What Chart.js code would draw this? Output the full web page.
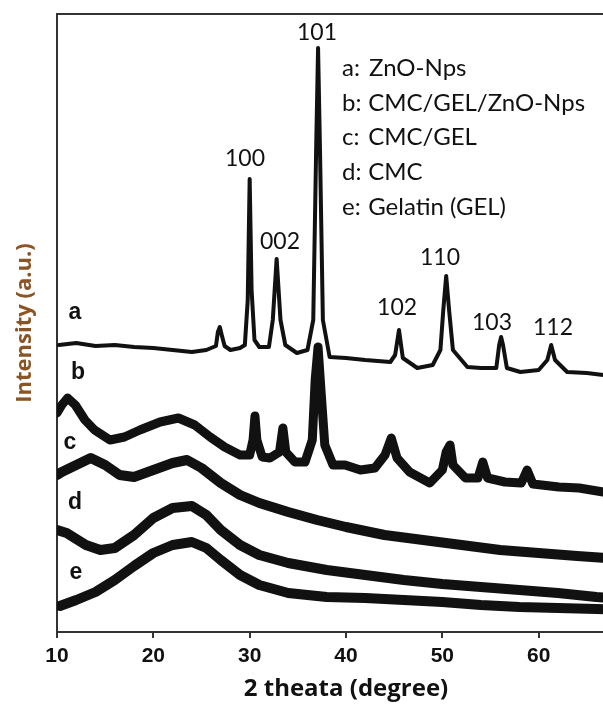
<!DOCTYPE html>
<html><head><meta charset="utf-8">
<script src="https://cdn.jsdelivr.net/npm/chart.js@4/dist/chart.umd.min.js"></script>
<style>html,body{margin:0;padding:0;overflow:hidden;background:#fff;width:603px;height:704px}canvas{display:block}</style>
</head><body><canvas id="c" width="635" height="704"></canvas>
<script>
// ---- data (2 theta in degree, intensity in arbitrary units, curves offset as in the figure) ----
const xTickValues = [10, 20, 30, 40, 50, 60, 70];

const thetaA = [10.2,12,14,16,18,20,22,24,25.5,26.5,26.7,26.9,27.1,27.4,28,29,29.5,29.8,30.0,30.2,30.5,31,32,32.4,32.8,33.2,33.7,34.9,36,36.6,36.9,37.1,37.3,37.6,38.3,40,42,44.6,45.1,45.5,45.9,47.4,49,49.8,50.1,50.4,50.7,51.1,52.6,54,55.6,55.9,56.1,56.3,56.7,58.1,60,60.9,61.3,61.7,62.96,65,66.7,70];
const intensA = [287,289,286,287,285,284,282,280,282,286,300,305,297,286,282,284,287,332,453,342,292,285,285,312,373,312,287,279,282,312,482,584,482,312,275,274,272,270,277,302,274,264,267,282,322,356,322,282,265,264,264,287,295,287,264,260,262,272,287,272,260,259,257,254];

const thetaB = [10.0,10.5,11.1,11.9,12.9,13.9,15.5,17.0,18.6,20.7,22.6,24.3,25.9,27.4,29.0,30.0,30.35,30.55,30.75,31.3,32.1,33.1,33.45,33.75,34.7,35.75,36.5,36.8,37.1,37.4,37.8,38.65,39.9,41.5,43.0,44.05,44.7,45.3,46.6,48.7,50.0,50.4,50.8,51.1,52.4,53.7,54.2,54.7,56.5,58.2,58.8,59.4,62.1,64.2,66.7,70];
const intensB = [219,227,234,227,212,202,192,195,202,210,214,207,195,185,177,177,192,216,192,175,174,180,204,180,170,170,192,252,285,242,187,167,167,162,164,177,194,174,160,149,162,180,187,167,154,154,170,154,150,149,162,148,145,144,140,138];

const thetaC = [10.0,10.5,12,13.5,15,16.5,18,20,22,23.5,25,27,29,31,34,37,40,44,48,52,56,60,64,67,70];
const intensC = [157,160,167,174,167,157,155,162,169,172,164,149,137,129,120,112,105,97,92,87,82,79,76,74,72];

const thetaD = [10.0,11,13,14.5,16,18,20,22,24,25.5,27,29,31,34,38,42,46,50,54,58,62,66,70];
const intensD = [102,99,87,82,84,97,114,124,126,117,102,87,77,69,62,57,52,48,45,42,39,35,32];

const thetaE = [10.3,12,14,16,18,20,22,24,25.5,27,29,31,34,38,42,46,50,54,58,62,66,70];
const intensE = [26,32,40,52,66,79,87,90,84,72,57,47,39,35,34,32,30,27,25,24,23,22];

// peak (hkl) labels
const peakNames = ['101','100','002','110','102','103','112'];
const peakLabelTheta = [36.99,29.52,33.15,49.76,45.30,55.16,61.49];
const peakLabelY = [599,473,390,374,324,309,304];

// curve letters
const curveLetters = ['a','b','c','d','e'];
const letterTheta = [11.87,12.18,11.35,11.87,11.97];
const letterY = [319,259,189,129,59];

// legend text
const legendKeys = ['a:','b:','c:','d:','e:'];
const legendNames = ['ZnO-Nps','CMC/GEL/ZnO-Nps','CMC/GEL','CMC','Gelatin (GEL)'];
const legendKeyTheta = 39.59;
const legendNameTheta = [42.4,42.3,42.3,42.3,42.3];
const legendY = [564,529,495,460,425];

function pts(xs, ys){ return xs.map((v,i)=>({x:v, y:ys[i]})); }

const annot = {
  id: 'annot',
  afterDatasetsDraw(chart){
    const {ctx, scales:{x, y}} = chart;
    ctx.save();
    ctx.fillStyle = '#111';
    ctx.textBaseline = 'middle';
    ctx.textAlign = 'center';
    ctx.font = '23px Lato';
    peakNames.forEach((t,i)=>ctx.fillText(t, x.getPixelForValue(peakLabelTheta[i]), y.getPixelForValue(peakLabelY[i])));
    ctx.font = 'bold 23px "Liberation Sans"';
    curveLetters.forEach((t,i)=>ctx.fillText(t, x.getPixelForValue(letterTheta[i]), y.getPixelForValue(letterY[i])));
    ctx.textAlign = 'left';
    ctx.font = '24px Lato';
    legendKeys.forEach((t,i)=>ctx.fillText(t, x.getPixelForValue(legendKeyTheta), y.getPixelForValue(legendY[i])));
    legendNames.forEach((t,i)=>ctx.fillText(t, x.getPixelForValue(legendNameTheta[i]), y.getPixelForValue(legendY[i])));
    ctx.restore();
  }
};

function make(){
  const ds = (xs, ys, w) => ({data: pts(xs, ys), borderColor:'#111', borderWidth:w, pointRadius:0, tension:0, borderJoinStyle:'round', borderCapStyle:'round'});
  new Chart(document.getElementById('c'), {
    type: 'line',
    data: { datasets: [
      ds(thetaA, intensA, 4),
      ds(thetaB, intensB, 9),
      ds(thetaC, intensC, 10),
      ds(thetaD, intensD, 10),
      ds(thetaE, intensE, 10)
    ]},
    options: {
      responsive: false,
      animation: false,
      layout: { padding: { top: 14, right: 0, left: 0, bottom: 0 } },
      plugins: { legend: {display:false}, tooltip: {enabled:false} },
      scales: {
        x: {
          type: 'linear', position: 'bottom', min: 10, max: 70,
          afterBuildTicks: s => { s.ticks = xTickValues.map(v=>({value:v})); },
          ticks: { color:'#111', font:{family:'Liberation Sans', weight:'bold', size:21}, padding: 6, maxRotation:0 },
          grid: { display:true, drawOnChartArea:false, drawTicks:true, tickLength:6, color:'#333', lineWidth:2 },
          border: { display:true, color:'#333', width:2 },
          title: { display:true, text:'2 theata (degree)', color:'#111', font:{family:'Open Sans', weight:'bold', size:24}, padding:{top:0, bottom:0} },
          afterFit: s => { s.height = 72; s.paddingLeft = 0; s.paddingRight = 0; }
        },
        x2: {
          type: 'linear', position: 'top', min: 10, max: 70,
          ticks: { display:false }, grid: { display:false },
          border: { display:true, color:'#333', width:2 },
          afterFit: s => { s.height = 0; s.paddingLeft = 0; s.paddingRight = 0; }
        },
        y: {
          type: 'linear', position: 'left', min: 0, max: 618,
          ticks: { display:false }, grid: { display:false },
          border: { display:true, color:'#333', width:2 },
          title: { display:true, text:'Intensity (a.u.)', color:'#8a5424', font:{family:'Open Sans', weight:'bold', size:22}, padding:{top:12, bottom:0} },
          afterFit: s => { s.width = 57; }
        }
      }
    },
    plugins: [annot]
  });
}
Promise.all(['23px Lato','bold 23px "Liberation Sans"','bold 24px "Open Sans"']
  .map(f=>document.fonts.load(f).catch(()=>null))).then(make, make);
</script>
</body></html>
